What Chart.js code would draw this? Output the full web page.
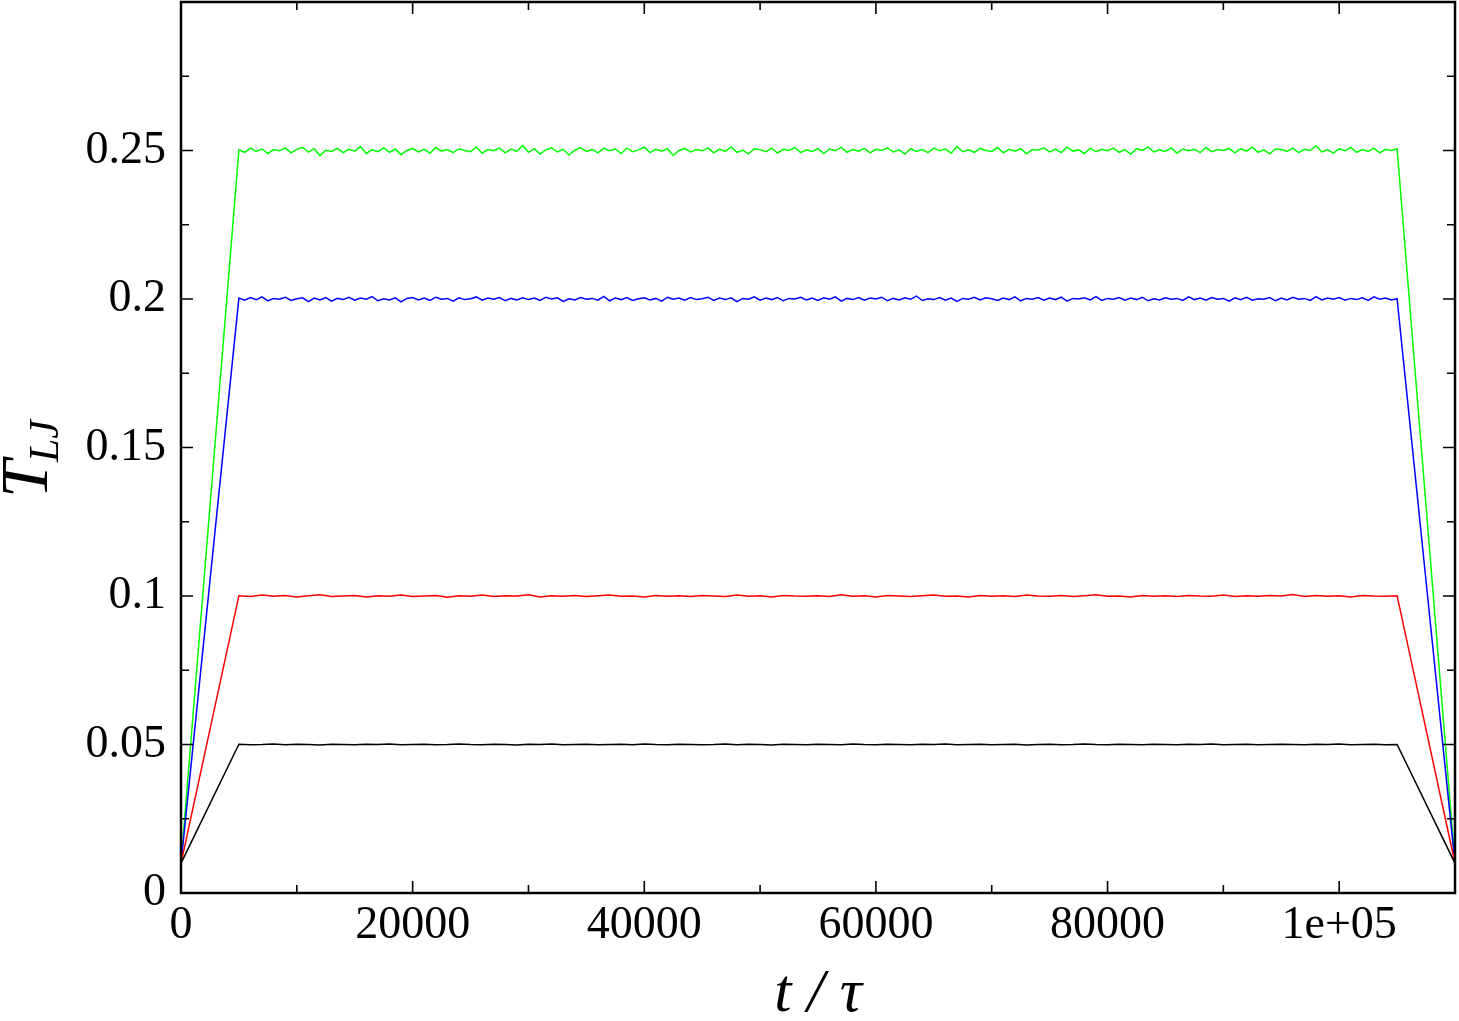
<!DOCTYPE html>
<html>
<head>
<meta charset="utf-8">
<script src="https://cdn.jsdelivr.net/npm/chart.js@4.4.1/dist/chart.umd.min.js"></script>
<style>
html,body{margin:0;padding:0;background:#fff;}
#wrap{width:1459px;height:1021px;position:relative;}
</style>
</head>
<body>
<div id="wrap"><canvas id="c" width="1459" height="1021"></canvas></div>
<script>
// ---- data ----
const tStart = 0, tRampEnd = 5000, tCoolStart = 105000, tEnd = 110000;
const T0 = 0.01;                  // starting / final temperature
const greenStep = 500, blueStep = 500, redStep = 1000, blackStep = 1000;

const greenPlateau = [
0.2502,0.2494,0.2508,0.2497,0.2505,0.2490,0.2503,0.2499,0.2509,0.2492,
0.2504,0.2511,0.2495,0.2506,0.2483,0.2501,0.2497,0.2507,0.2493,0.2504,
0.2498,0.2513,0.2490,0.2502,0.2496,0.2509,0.2494,0.2505,0.2486,0.2500,
0.2507,0.2495,0.2504,0.2491,0.2510,0.2498,0.2503,0.2493,0.2506,0.2500,
0.2496,0.2512,0.2491,0.2503,0.2499,0.2508,0.2492,0.2505,0.2497,0.2517,
0.2494,0.2506,0.2488,0.2502,0.2509,0.2495,0.2504,0.2485,0.2501,0.2510,
0.2497,0.2503,0.2492,0.2507,0.2499,0.2505,0.2490,0.2508,0.2496,0.2502,
0.2511,0.2493,0.2504,0.2498,0.2506,0.2483,0.2500,0.2507,0.2495,0.2503,
0.2499,0.2509,0.2492,0.2505,0.2497,0.2512,0.2494,0.2501,0.2489,0.2506,
0.2503,0.2496,0.2508,0.2491,0.2504,0.2500,0.2510,0.2493,0.2502,0.2497,
0.2506,0.2490,0.2505,0.2499,0.2511,0.2494,0.2503,0.2498,0.2507,0.2492,
0.2504,0.2500,0.2509,0.2495,0.2502,0.2488,0.2506,0.2497,0.2503,0.2493,
0.2508,0.2499,0.2505,0.2491,0.2514,0.2496,0.2502,0.2494,0.2507,0.2500,
0.2497,0.2510,0.2492,0.2504,0.2498,0.2506,0.2489,0.2503,0.2501,0.2509,
0.2495,0.2505,0.2493,0.2511,0.2498,0.2502,0.2490,0.2507,0.2496,0.2504,
0.2499,0.2508,0.2494,0.2503,0.2487,0.2506,0.2500,0.2512,0.2495,0.2502,
0.2497,0.2509,0.2491,0.2505,0.2499,0.2504,0.2493,0.2510,0.2496,0.2503,
0.2500,0.2507,0.2492,0.2506,0.2498,0.2511,0.2494,0.2502,0.2489,0.2505,
0.2503,0.2497,0.2508,0.2493,0.2504,0.2500,0.2516,0.2495,0.2502,0.2491,
0.2506,0.2499,0.2510,0.2494,0.2503,0.2497,0.2508,0.2492,0.2504,0.2500,
0.2506];

const bluePlateau = [
0.2003,0.1996,0.2005,0.1998,0.2007,0.1994,0.2002,0.1999,0.2006,0.1995,
0.2001,0.2004,0.1991,0.2003,0.1997,0.2005,0.1993,0.2002,0.1998,0.2006,
0.1996,0.2003,0.1999,0.2008,0.1994,0.2001,0.1997,0.2004,0.1990,0.2002,
0.2005,0.1997,0.2003,0.1995,0.2006,0.1999,0.2002,0.1993,0.2004,0.1998,
0.2001,0.2007,0.1996,0.2003,0.1999,0.2005,0.1994,0.2002,0.1997,0.2004,
0.1998,0.2003,0.1995,0.2006,0.2000,0.2004,0.1992,0.2001,0.1997,0.2005,
0.1999,0.2002,0.1996,0.2009,0.1994,0.2003,0.1998,0.2005,0.1995,0.2001,
0.2004,0.1997,0.2002,0.1993,0.2006,0.1999,0.2003,0.1996,0.2005,0.1998,
0.2001,0.2006,0.1995,0.2003,0.1998,0.2004,0.1991,0.2002,0.1999,0.2007,
0.1996,0.2003,0.1998,0.2005,0.1994,0.2002,0.2000,0.2006,0.1997,0.2003,
0.1995,0.2004,0.1999,0.2007,0.1993,0.2002,0.1998,0.2005,0.1996,0.2003,
0.2000,0.2006,0.1994,0.2002,0.1997,0.2004,0.1999,0.2010,0.1995,0.2001,
0.1998,0.2005,0.1996,0.2003,0.1992,0.2002,0.1999,0.2006,0.1997,0.2004,
0.2001,0.1995,0.2003,0.1998,0.2007,0.1994,0.2002,0.1999,0.2005,0.1996,
0.2003,0.1998,0.2006,0.1993,0.2002,0.2000,0.2004,0.1997,0.2008,0.1995,
0.2002,0.1999,0.2005,0.1996,0.2003,0.1998,0.2006,0.1994,0.2001,0.1997,
0.2004,0.1999,0.2002,0.1995,0.2007,0.1998,0.2003,0.1996,0.2005,0.1999,
0.2002,0.1993,0.2004,0.1998,0.2006,0.1996,0.2001,0.1999,0.2005,0.1994,
0.2003,0.1997,0.2006,0.1999,0.2002,0.1995,0.2008,0.1997,0.2003,0.1999,
0.2005,0.1996,0.2002,0.1998,0.2004,0.1995,0.2007,0.1999,0.2003,0.1997,
0.2001];

const redPlateau = [
0.1001,0.0998,0.1003,0.0999,0.1002,0.0997,0.1001,0.1004,0.0998,0.1000,
0.1002,0.0997,0.1001,0.0999,0.1003,0.0998,0.1000,0.1002,0.0996,0.1001,
0.0999,0.1003,0.0998,0.1001,0.1000,0.1004,0.0997,0.1001,0.0999,0.1002,
0.0998,0.1001,0.1003,0.0999,0.1000,0.0997,0.1002,0.0999,0.1001,0.0998,
0.1002,0.1000,0.0998,0.1003,0.0999,0.1001,0.0997,0.1002,0.1000,0.0999,
0.1001,0.0998,0.1004,0.0999,0.1001,0.0997,0.1002,0.1000,0.0998,0.1001,
0.1003,0.0999,0.1000,0.0997,0.1002,0.0999,0.1001,0.0998,0.1003,0.1000,
0.0999,0.1002,0.0998,0.1001,0.1004,0.0999,0.1000,0.0997,0.1002,0.0999,
0.1001,0.0998,0.1002,0.1000,0.0999,0.1003,0.0998,0.1001,0.0999,0.1002,
0.1000,0.1005,0.0998,0.1002,0.0999,0.1001,0.0997,0.1002,0.1000,0.0999,
0.1001];

const blackPlateau = [
0.0501,0.0499,0.0500,0.0502,0.0499,0.0501,0.0500,0.0498,0.0501,0.0500,
0.0499,0.0501,0.0500,0.0502,0.0499,0.0500,0.0501,0.0499,0.0500,0.0502,
0.0500,0.0499,0.0501,0.0500,0.0498,0.0501,0.0500,0.0502,0.0499,0.0500,
0.0501,0.0499,0.0500,0.0501,0.0499,0.0502,0.0500,0.0499,0.0501,0.0500,
0.0499,0.0500,0.0502,0.0499,0.0501,0.0500,0.0498,0.0501,0.0500,0.0499,
0.0501,0.0500,0.0499,0.0502,0.0500,0.0499,0.0501,0.0500,0.0499,0.0501,
0.0500,0.0502,0.0499,0.0500,0.0501,0.0499,0.0500,0.0501,0.0498,0.0500,
0.0501,0.0499,0.0500,0.0502,0.0500,0.0499,0.0501,0.0500,0.0499,0.0501,
0.0500,0.0499,0.0501,0.0500,0.0502,0.0499,0.0500,0.0501,0.0499,0.0500,
0.0501,0.0500,0.0499,0.0501,0.0500,0.0502,0.0499,0.0500,0.0501,0.0499,
0.0500];

const xMajorTicks = [0, 20000, 40000, 60000, 80000, 100000];
const xMinorTicks = [10000, 30000, 50000, 70000, 90000, 110000];
const yMajorTicks = [0, 0.05, 0.1, 0.15, 0.2, 0.25, 0.3];
const yMinorTicks = [0.025, 0.075, 0.125, 0.175, 0.225, 0.275];
const xTickLabels = ['0', '20000', '40000', '60000', '80000', '1e+05'];
const yTickLabels = ['0', '0.05', '0.1', '0.15', '0.2', '0.25', ''];

// ---- build series ----
function series(plateau, step) {
  const pts = [{x: tStart, y: T0}];
  plateau.forEach((v, i) => pts.push({x: tRampEnd + i * step, y: v}));
  pts.push({x: tEnd, y: T0});
  return pts;
}

const SERIF = '"Liberation Serif","DejaVu Serif","Times New Roman",serif';

const framePlugin = {
  id: 'frame',
  afterDraw(chart) {
    const {ctx, chartArea: a, scales: {x, y}} = chart;
    ctx.save();
    ctx.strokeStyle = '#000';
    ctx.lineWidth = 1.6;
    const maj = 12, min = 8;
    ctx.beginPath();
    const vt = (v, len) => {
      const px = x.getPixelForValue(v);
      ctx.moveTo(px, a.bottom); ctx.lineTo(px, a.bottom - len);
      ctx.moveTo(px, a.top); ctx.lineTo(px, a.top + len);
    };
    const ht = (v, len) => {
      const py = y.getPixelForValue(v);
      ctx.moveTo(a.left, py); ctx.lineTo(a.left + len, py);
      ctx.moveTo(a.right, py); ctx.lineTo(a.right - len, py);
    };
    xMajorTicks.forEach(v => vt(v, maj));
    xMinorTicks.forEach(v => vt(v, min));
    yMajorTicks.forEach(v => ht(v, maj));
    yMinorTicks.forEach(v => ht(v, min));
    ctx.stroke();
    ctx.lineWidth = 2.5;
    ctx.strokeRect(a.left, a.top, a.right - a.left, a.bottom - a.top);

    // axis titles
    ctx.fillStyle = '#000';
    ctx.textBaseline = 'alphabetic';
    ctx.textAlign = 'center';
    ctx.font = 'italic 62px ' + SERIF;
    ctx.fillText('t / \u03C4', (a.left + a.right) / 2, 1011);

    ctx.translate(47, 458);
    ctx.rotate(-Math.PI / 2);
    ctx.font = 'italic 68px ' + SERIF;
    const wT = ctx.measureText('T').width;
    ctx.font = 'italic 42px ' + SERIF;
    const wS = ctx.measureText('LJ').width;
    const start = -(wT + wS) / 2;
    ctx.textAlign = 'left';
    ctx.font = 'italic 68px ' + SERIF;
    ctx.fillText('T', start, 0);
    ctx.font = 'italic 42px ' + SERIF;
    ctx.fillText('LJ', start + wT - 2, 11);
    ctx.restore();
  }
};

new Chart(document.getElementById('c'), {
  type: 'line',
  data: {
    datasets: [
      {label: 'T=0.05', data: series(blackPlateau, blackStep), borderColor: '#000000'},
      {label: 'T=0.1', data: series(redPlateau, redStep), borderColor: '#ff0000'},
      {label: 'T=0.2', data: series(bluePlateau, blueStep), borderColor: '#0000ff'},
      {label: 'T=0.25', data: series(greenPlateau, greenStep), borderColor: '#00ff00'}
    ].map(d => Object.assign(d, {borderWidth: 1.5, pointRadius: 0, tension: 0, fill: false}))
  },
  options: {
    responsive: false,
    animation: false,
    devicePixelRatio: 1,
    layout: {padding: {left: 0, right: 4, top: 2, bottom: 0}},
    plugins: {legend: {display: false}, tooltip: {enabled: false}},
    scales: {
      x: {
        type: 'linear', min: tStart, max: tEnd,
        grid: {display: false, drawTicks: false},
        border: {display: false},
        ticks: {
          autoSkip: false, maxRotation: 0, minRotation: 0,
          padding: 5, color: '#000',
          font: {family: SERIF, size: 46},
          callback: (v, i) => xTickLabels[i]
        },
        afterBuildTicks: s => { s.ticks = xMajorTicks.map(v => ({value: v})); },
        afterFit: s => { s.height = 128; s.paddingLeft = 0; s.paddingRight = 0; }
      },
      y: {
        type: 'linear', min: 0, max: 0.3,
        grid: {display: false, drawTicks: false},
        border: {display: false},
        ticks: {
          autoSkip: false, padding: 15, color: '#000',
          font: {family: SERIF, size: 46},
          callback: (v, i) => yTickLabels[i]
        },
        afterBuildTicks: s => { s.ticks = yMajorTicks.map(v => ({value: v})); },
        afterFit: s => { s.width = 181; s.paddingTop = 0; s.paddingBottom = 0; }
      }
    }
  },
  plugins: [framePlugin]
});
</script>
</body>
</html>
